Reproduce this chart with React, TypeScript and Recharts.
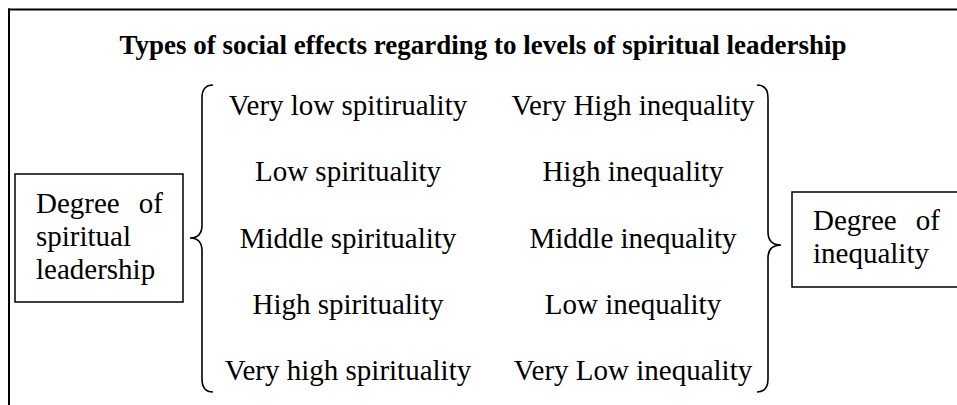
import { ComposedChart, ReferenceArea, ReferenceLine, Scatter, XAxis, YAxis } from "recharts";

const title = "Types of social effects regarding to levels of spiritual leadership";
const spiritualityLevels = [
  "Very low spitiruality",
  "Low spirituality",
  "Middle spirituality",
  "High spirituality",
  "Very high spirituality",
];
const inequalityLevels = [
  "Very High inequality",
  "High inequality",
  "Middle inequality",
  "Low inequality",
  "Very Low inequality",
];
const leftBoxLines = ["Degree  of", "spiritual", "leadership"];
const rightBoxLines = ["Degree  of", "inequality"];

const W = 957;
const H = 405;
const FONT = '"Liberation Serif", "Times New Roman", serif';

// layout, in the pixel units of the hidden axes
const ROW_TOP = 115;
const ROW_GAP = 66.3;
const LEFT_COL = 348;
const RIGHT_COL = 633;

const titleRow = [{ x: 483, y: 54, label: title }];
const leftRows = spiritualityLevels.map((label, i) => ({ x: LEFT_COL, y: ROW_TOP + i * ROW_GAP, label }));
const rightRows = inequalityLevels.map((label, i) => ({ x: RIGHT_COL, y: ROW_TOP + i * ROW_GAP, label }));
const leftBoxText = leftBoxLines.map((label, i) => ({ x: 36, y: 213 + i * 33, label, w: 127 }));
const rightBoxText = rightBoxLines.map((label, i) => ({ x: 813, y: 230 + i * 33, label, w: 127 }));

const CenterText = (bold: boolean, size: number) => (p: any) => (
  <text
    x={p.cx}
    y={p.cy}
    textAnchor="middle"
    fontFamily={FONT}
    fontSize={size}
    fontWeight={bold ? "bold" : "normal"}
    fill="#000"
  >
    {p.payload.label}
  </text>
);

// box lines are justified: "Degree  of" spreads over the full line width
const BoxText = (p: any) => {
  const parts = p.payload.label.split(/\s{2,}/);
  const style = { fontFamily: FONT, fontSize: 29, fill: "#000" };
  if (parts.length === 2) {
    return (
      <g>
        <text x={p.cx} y={p.cy} {...style}>
          {parts[0]}
        </text>
        <text x={p.cx + p.payload.w} y={p.cy} textAnchor="end" {...style}>
          {parts[1]}
        </text>
      </g>
    );
  }
  return (
    <text x={p.cx} y={p.cy} {...style}>
      {p.payload.label}
    </text>
  );
};

// curly brace drawn inside the reference area; dir 1 opens right, -1 opens left
const Brace = (dir: number, tipY: number) => (p: any) => {
  const { x, y, width, height } = p;
  const r = 13;
  const xe = dir === 1 ? x + width : x;
  const xt = dir === 1 ? x : x + width;
  const xl = dir === 1 ? x + width - 11 : x + 11;
  const yt = y;
  const yb = y + height;
  const ym = tipY;
  const d = [
    `M${xe},${yt}`,
    `Q${xl},${yt} ${xl},${yt + r}`,
    `L${xl},${ym - r}`,
    `Q${xl},${ym} ${xt},${ym}`,
    `Q${xl},${ym} ${xl},${ym + r}`,
    `L${xl},${yb - r}`,
    `Q${xl},${yb} ${xe},${yb}`,
  ].join(" ");
  return <path d={d} fill="none" stroke="#000" strokeWidth={1.6} />;
};

export default function App() {
  return (
    <div style={{ position: "absolute", left: 0, top: 0, background: "#fff" }}>
      <ComposedChart width={W} height={H} margin={{ top: 0, right: 0, bottom: 0, left: 0 }}>
        <XAxis type="number" dataKey="x" domain={[0, W]} hide />
        <YAxis type="number" dataKey="y" domain={[0, H]} reversed hide />

        <ReferenceLine segment={[{ x: 8, y: 9.5 }, { x: W, y: 9.5 }]} stroke="#000" strokeWidth={2} ifOverflow="visible" />
        <ReferenceLine segment={[{ x: 9, y: 8.5 }, { x: 9, y: H }]} stroke="#000" strokeWidth={2} ifOverflow="visible" />

        <ReferenceArea x1={15} x2={183} y1={174} y2={302} fill="none" stroke="#000" strokeWidth={1.5} fillOpacity={0} ifOverflow="visible" />
        <ReferenceArea x1={792} x2={968} y1={192} y2={287} fill="none" stroke="#000" strokeWidth={1.5} fillOpacity={0} ifOverflow="visible" />

        <ReferenceArea x1={190} x2={213} y1={85} y2={392} ifOverflow="visible" shape={Brace(1, 238)} />
        <ReferenceArea x1={757} x2={781} y1={85} y2={392} ifOverflow="visible" shape={Brace(-1, 245)} />

        <Scatter data={titleRow} shape={CenterText(true, 27)} isAnimationActive={false} />
        <Scatter data={leftRows} shape={CenterText(false, 29)} isAnimationActive={false} />
        <Scatter data={rightRows} shape={CenterText(false, 29)} isAnimationActive={false} />
        <Scatter data={leftBoxText} shape={BoxText} isAnimationActive={false} />
        <Scatter data={rightBoxText} shape={BoxText} isAnimationActive={false} />
      </ComposedChart>
    </div>
  );
}
